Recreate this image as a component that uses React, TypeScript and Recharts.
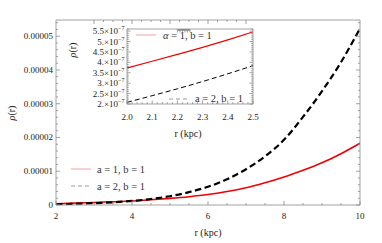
import { LineChart, Line, XAxis, YAxis, Legend, Label } from 'recharts'

// main panel: r (kpc) vs rho(r)
const R_MAIN = [2, 2.5, 3, 3.5, 4, 4.5, 5, 5.5, 6, 6.5, 7, 7.5, 8, 8.5, 9, 9.5, 10]
const RHO_A1 = [3.73e-7, 5.45e-7, 7.6e-7, 9.8e-7, 1.2e-6, 1.55e-6, 1.95e-6, 2.45e-6, 3.1e-6, 4.0e-6, 5.1e-6, 6.6e-6, 8.3e-6, 1.03e-5, 1.25e-5, 1.52e-5, 1.83e-5]
const RHO_A2 = [2.08e-7, 3.84e-7, 5.5e-7, 8.0e-7, 1.2e-6, 1.78e-6, 2.6e-6, 3.8e-6, 5.4e-6, 7.6e-6, 1.06e-5, 1.44e-5, 1.93e-5, 2.61e-5, 3.37e-5, 4.23e-5, 5.23e-5]

// inset: zoom on 2.0 - 2.5 kpc
const R_INSET = [2.0, 2.1, 2.2, 2.3, 2.4, 2.5]
const RHO_A1_INSET = [3.73e-7, 4.05e-7, 4.38e-7, 4.72e-7, 5.08e-7, 5.46e-7]
const RHO_A2_INSET = [2.08e-7, 2.4e-7, 2.73e-7, 3.08e-7, 3.45e-7, 3.84e-7]

const MAIN_X_MAJOR = [2, 4, 6, 8, 10]
const MAIN_X_LABELS = ['2', '4', '6', '8', '10']
const MAIN_Y_MAJOR = [0, 0.00001, 0.00002, 0.00003, 0.00004, 0.00005]
const MAIN_Y_LABELS = ['0', '0.00001', '0.00002', '0.00003', '0.00004', '0.00005']

const INSET_X_MAJOR = [2.0, 2.1, 2.2, 2.3, 2.4, 2.5]
const INSET_X_LABELS = ['2.0', '2.1', '2.2', '2.3', '2.4', '2.5']
const INSET_Y_MAJOR = [2e-7, 2.5e-7, 3e-7, 3.5e-7, 4e-7, 4.5e-7, 5e-7, 5.5e-7]
const INSET_Y_MANT = ['2.', '2.5', '3.', '3.5', '4.', '4.5', '5.', '5.5']

const FONT = "'Liberation Serif', 'DejaVu Serif', serif"
const FRAME = '#8a8a8a'
const TXT = '#222'
const LEGEND_COLORS: Record<string, string> = { a1: '#f4a0a0', a2: '#9a9a9a' }

function steps(from: number, to: number, step: number) {
  const out: number[] = []
  const n = Math.round((to - from) / step)
  for (let i = 0; i <= n; i++) out.push(+(from + i * step).toPrecision(10))
  return out
}

const mainXTicks = steps(2, 10, 0.5)
const mainYTicks = steps(0, 0.000054, 0.000002)
const insetXTicks = steps(2, 2.5, 0.02)
const insetYTicks = steps(2e-7, 5.6e-7, 1e-8)

const idxOf = (list: number[], v: number) =>
  list.findIndex(m => Math.abs(m - v) < Math.abs(list[1] - list[0]) * 1e-3)

const mainData = R_MAIN.map((r, i) => ({ r, a1: RHO_A1[i], a2: RHO_A2[i] }))
const insetData = R_INSET.map((r, i) => ({ r, a1: RHO_A1_INSET[i], a2: RHO_A2_INSET[i] }))

function makeTick(side: 'bottom' | 'top' | 'left' | 'right', majors: number[], render?: (i: number, x: number, y: number) => any, major = 4, minor = 2) {
  return (props: any) => {
    const { x, y, payload } = props
    const i = idxOf(majors, payload.value)
    const len = i >= 0 ? major : minor
    let x2 = x, y2 = y
    if (side === 'bottom') y2 = y - len
    if (side === 'top') y2 = y + len
    if (side === 'left') x2 = x + len
    if (side === 'right') x2 = x - len
    return (
      <g>
        <line x1={x} y1={y} x2={x2} y2={y2} stroke={FRAME} strokeWidth={0.8} />
        {i >= 0 && render ? render(i, x, y) : null}
      </g>
    )
  }
}

const mainBottomTick = makeTick('bottom', MAIN_X_MAJOR, (i, x, y) => (
  <text x={x} y={y + 14} textAnchor="middle" fontSize={9} fill={TXT} fontFamily={FONT}>{MAIN_X_LABELS[i]}</text>
))
const mainLeftTick = makeTick('left', MAIN_Y_MAJOR, (i, x, y) => (
  <text x={x - 3} y={y + 3} textAnchor="end" fontSize={9} fill={TXT} fontFamily={FONT}>{MAIN_Y_LABELS[i]}</text>
))
const mainTopTick = makeTick('top', MAIN_X_MAJOR)
const mainRightTick = makeTick('right', MAIN_Y_MAJOR)

const insetBottomTick = makeTick('bottom', INSET_X_MAJOR, (i, x, y) => (
  <text x={x} y={y + 16} textAnchor="middle" fontSize={9} fill={TXT} fontFamily={FONT}>{INSET_X_LABELS[i]}</text>
), 3.5, 1.8)
const insetLeftTick = makeTick('left', INSET_Y_MAJOR, (i, x, y) => (
  <text x={x - 2.5} y={y + 3} textAnchor="end" fontSize={9} fill={TXT} fontFamily={FONT}>
    {INSET_Y_MANT[i]}×10<tspan dy={-4} fontSize={6}>−7</tspan>
  </text>
), 3.5, 1.8)
const insetTopTick = makeTick('top', INSET_X_MAJOR, undefined, 3.5, 1.8)
const insetRightTick = makeTick('right', INSET_Y_MAJOR, undefined, 3.5, 1.8)

function legendLine(entry: any, x: number, y: number) {
  const dashed = entry.dataKey === 'a2'
  return (
    <line x1={x} y1={y} x2={x + 20} y2={y} stroke={LEGEND_COLORS[entry.dataKey] || entry.color}
      strokeWidth={1} strokeDasharray={dashed ? '4 3' : undefined} />
  )
}

function MainLegend(props: any) {
  const items = props.payload || []
  return (
    <svg width={382} height={243} style={{ position: 'absolute', left: 0, top: 0 }}>
      {items.map((e: any, i: number) => {
        const y = 169 + i * 17
        return (
          <g key={e.dataKey}>
            {legendLine(e, 71, y)}
            <text x={97} y={y + 3.5} fontSize={10.5} fill="#333" fontFamily={FONT}>{e.value}</text>
          </g>
        )
      })}
    </svg>
  )
}

function InsetLegend(props: any) {
  const items = props.payload || []
  const a1 = items.find((e: any) => e.dataKey === 'a1')
  const a2 = items.find((e: any) => e.dataKey === 'a2')
  return (
    <svg width={382} height={243} style={{ position: 'absolute', left: 0, top: 0 }}>
      {a1 && legendLine(a1, 136, 35)}
      {a1 && (
        <text x={163} y={38.5} fontSize={10.5} fill="#333" fontFamily={FONT}>
          <tspan fontStyle="italic">α</tspan>{' = 1, b = 1'}
        </text>
      )}
      {a2 && legendLine(a2, 169, 99)}
      {a2 && <text x={195} y={102} fontSize={10.5} fill="#333" fontFamily={FONT}>{a2.value}</text>}
    </svg>
  )
}

const axisLine = { stroke: FRAME, strokeWidth: 0.8 }

export default function App() {
  return (
    <div style={{ position: 'absolute', left: 0, top: 0, width: 382, height: 243, background: '#fff' }}>
      <div style={{ position: 'absolute', left: 0, top: 0 }}>
        <LineChart width={382} height={243} data={mainData} margin={{ top: 19, right: 21, bottom: 37, left: 55 }}>
          <XAxis xAxisId="b" dataKey="r" type="number" domain={[2, 10]} allowDataOverflow ticks={mainXTicks}
            interval={0} height={1} tickSize={0} tickMargin={0} tick={mainBottomTick} tickLine={false}
            axisLine={axisLine}>
            <Label content={() => (
              <text x={208} y={236} textAnchor="middle" fontSize={10} fill={TXT} fontFamily={FONT}>r (kpc)</text>
            )} />
          </XAxis>
          <XAxis xAxisId="t" orientation="top" type="number" domain={[2, 10]} allowDataOverflow ticks={mainXTicks}
            interval={0} height={1} tickSize={0} tickMargin={0} tick={mainTopTick} tickLine={false}
            axisLine={axisLine} />
          <YAxis yAxisId="l" type="number" domain={[0, 0.0000548]} allowDataOverflow ticks={mainYTicks}
            interval={0} width={1} tickSize={0} tickMargin={0} tick={mainLeftTick} tickLine={false}
            axisLine={axisLine}>
            <Label content={() => (
              <text x={15} y={113} transform="rotate(-90 15 113)" textAnchor="middle" fontSize={10} fill={TXT} fontFamily={FONT}>
                <tspan fontStyle="italic">ρ</tspan>(r)
              </text>
            )} />
          </YAxis>
          <YAxis yAxisId="r" orientation="right" type="number" domain={[0, 0.0000548]} allowDataOverflow ticks={mainYTicks}
            interval={0} width={1} tickSize={0} tickMargin={0} tick={mainRightTick} tickLine={false}
            axisLine={axisLine} />
          <Legend layout="horizontal" verticalAlign="middle" align="center" content={MainLegend}
            wrapperStyle={{ left: 0, top: 0, width: 382, height: 243, pointerEvents: 'none' }} />
          <Line xAxisId="b" yAxisId="l" type="monotone" dataKey="a1" name="a = 1, b = 1" stroke="#f00000"
            strokeWidth={1.6} dot={false} isAnimationActive={false} />
          <Line xAxisId="b" yAxisId="l" type="monotone" dataKey="a2" name="a = 2, b = 1" stroke="#000"
            strokeWidth={2.2} strokeDasharray="6.5 3.5" dot={false} isAnimationActive={false} />
        </LineChart>
      </div>
      <div style={{ position: 'absolute', left: 0, top: 0 }}>
        <LineChart width={382} height={243} data={insetData} margin={{ top: 28, right: 128, bottom: 138, left: 126 }}>
          <XAxis xAxisId="b" dataKey="r" type="number" domain={[2, 2.5]} allowDataOverflow ticks={insetXTicks}
            interval={0} height={1} tickSize={0} tickMargin={0} tick={insetBottomTick} tickLine={false}
            axisLine={axisLine}>
            <Label content={() => (
              <text x={188} y={137} textAnchor="middle" fontSize={10} fill={TXT} fontFamily={FONT}>r (kpc)</text>
            )} />
          </XAxis>
          <XAxis xAxisId="t" orientation="top" type="number" domain={[2, 2.5]} allowDataOverflow ticks={insetXTicks}
            interval={0} height={1} tickSize={0} tickMargin={0} tick={insetTopTick} tickLine={false}
            axisLine={axisLine} />
          <YAxis yAxisId="l" type="number" domain={[2e-7, 5.6e-7]} allowDataOverflow ticks={insetYTicks}
            interval={0} width={1} tickSize={0} tickMargin={0} tick={insetLeftTick} tickLine={false}
            axisLine={axisLine}>
            <Label content={() => (
              <text x={76} y={50} transform="rotate(-90 76 50)" textAnchor="middle" fontSize={10} fill={TXT} fontFamily={FONT}>
                <tspan fontStyle="italic">ρ</tspan>(r)
              </text>
            )} />
          </YAxis>
          <YAxis yAxisId="r" orientation="right" type="number" domain={[2e-7, 5.6e-7]} allowDataOverflow ticks={insetYTicks}
            interval={0} width={1} tickSize={0} tickMargin={0} tick={insetRightTick} tickLine={false}
            axisLine={axisLine} />
          <Legend layout="horizontal" verticalAlign="middle" align="center" content={InsetLegend}
            wrapperStyle={{ left: 0, top: 0, width: 382, height: 243, pointerEvents: 'none' }} />
          <Line xAxisId="b" yAxisId="l" type="monotone" dataKey="a1" name="α = 1, b = 1" stroke="#f00000"
            strokeWidth={1.2} dot={false} isAnimationActive={false} />
          <Line xAxisId="b" yAxisId="l" type="monotone" dataKey="a2" name="a = 2, b = 1" stroke="#000"
            strokeWidth={1} strokeDasharray="5 3" dot={false} isAnimationActive={false} />
        </LineChart>
      </div>
    </div>
  )
}
